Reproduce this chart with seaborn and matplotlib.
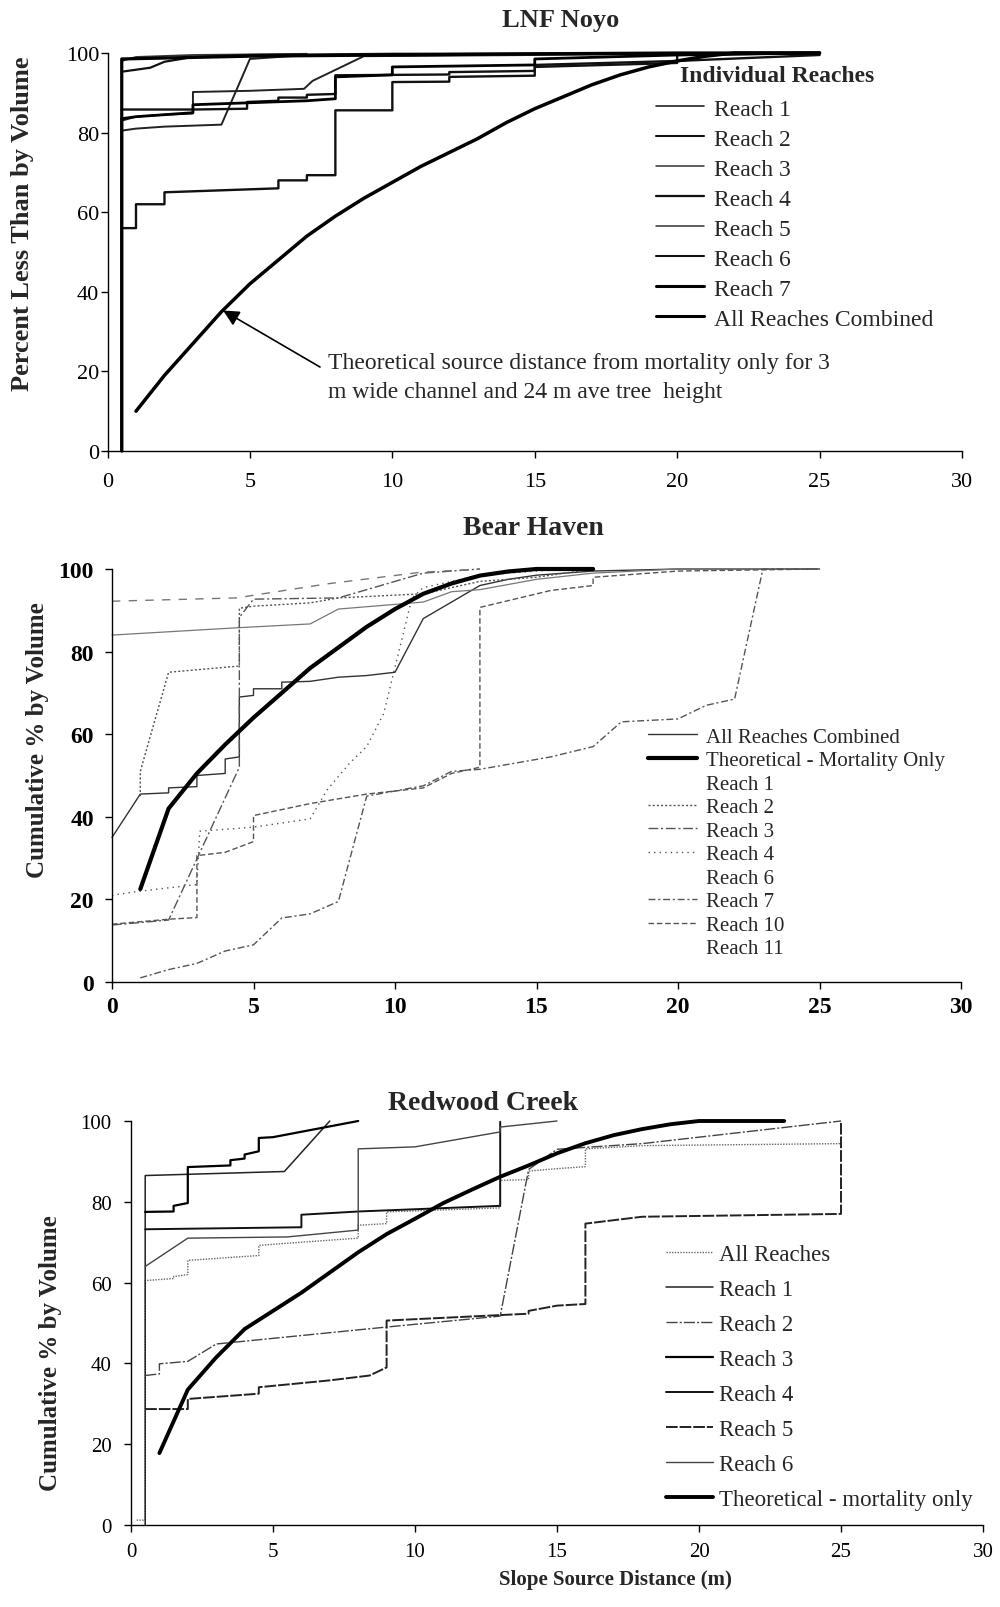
import matplotlib
matplotlib.use("Agg")
import matplotlib.pyplot as plt
import seaborn as sns
from matplotlib.lines import Line2D

# ---------------- data: LNF Noyo ----------------
noyo_theory_x = [1, 2, 3, 4, 5, 6, 7, 8, 9, 10, 11, 12, 13, 14, 15, 16, 17, 18, 19, 20, 21, 22, 25]
noyo_theory_y = [10, 19, 27, 35, 42, 48, 54, 59, 63.5, 67.5, 71.5, 75, 78.5, 82.5, 86, 89, 92, 94.5, 96.5, 98, 99.2, 100, 100]

noyo_r1_x = [0.5, 1, 1, 2, 2, 4, 6, 6, 7, 7, 8, 8, 10, 10, 12, 12, 15, 15, 20, 20, 25]
noyo_r1_y = [56, 56, 62, 62, 65, 65.5, 66, 68, 68, 69.3, 69.3, 85.6, 85.6, 92.7, 92.8, 94, 94.3, 96.5, 97.5, 99.5, 100]
noyo_r2_x = [0.5, 1, 2, 4, 5, 7, 25]
noyo_r2_y = [80.5, 81, 81.5, 82, 98.5, 99.5, 100]
noyo_r3_x = [0.5, 1, 2, 3, 3, 5, 6.9, 7.2, 9, 25]
noyo_r3_y = [83, 84, 84.5, 84.8, 90.2, 90.5, 91, 93, 99.2, 100]
noyo_r4_x = [0.5, 3, 4.9, 4.9, 6, 6, 7, 7, 8, 8, 12, 12, 15, 15, 20, 25]
noyo_r4_y = [85.8, 85.8, 86, 87.7, 88, 88.8, 88.8, 89.5, 89.7, 94.4, 94.6, 95.2, 95.5, 97, 98, 99.5]
noyo_r5_x = [0.5, 1, 3, 7]
noyo_r5_y = [98, 99, 99.5, 99.8]
noyo_r6_x = [0.5, 1.5, 2, 3, 5, 10, 25]
noyo_r6_y = [95.3, 96.3, 97.8, 99, 99.5, 99.8, 100]
noyo_r7_x = [0.5, 0.5, 5, 10, 15, 20, 25]
noyo_r7_y = [0, 98.5, 99.2, 99.5, 99.8, 100, 100]
noyo_all_x = [0.5, 0.5, 1, 2, 3, 3, 5, 7, 8, 8, 10, 10, 15, 15, 20, 25]
noyo_all_y = [0, 83.5, 84, 84.5, 85, 87, 87.5, 88, 88.5, 94, 94.5, 96.5, 97, 98.5, 99.5, 100]

# ---------------- data: Bear Haven ----------------
bh_theory_x = [1, 2, 3, 4, 5, 6, 7, 8, 9, 10, 11, 12, 13, 14, 15, 17]
bh_theory_y = [22.5, 42, 50.5, 57.5, 64, 70, 76, 81, 86, 90.3, 94, 96.5, 98.4, 99.4, 100, 100]

bh_all_x = [0, 1, 2, 2, 3, 3, 4, 4, 4.5, 4.5, 5, 5, 6, 6, 7, 8, 9, 10, 11, 12, 13, 14, 15, 17, 20, 25]
bh_all_y = [35, 45.5, 45.8, 47, 47.3, 50, 50.5, 54, 54.5, 69, 69.4, 71, 71, 72.6, 72.8, 73.8, 74.2, 75, 88, 92, 96, 97.5, 98.5, 99.5, 100, 100]
bh_r1_x = [0, 4.5, 7, 8, 11, 12, 13, 15, 17, 20, 25]
bh_r1_y = [84, 85.8, 86.7, 90.3, 92, 94.5, 95, 97.5, 99, 100, 100]
bh_r2_x = [1, 1, 2, 4.5, 4.5, 5, 7, 8, 11, 13, 15, 17]
bh_r2_y = [45, 51, 75, 76.5, 90.5, 91, 91.8, 93, 94, 97, 98, 100]
bh_r3_x = [0, 2, 4.5, 4.5, 5, 8, 11, 13]
bh_r3_y = [13.8, 15, 52, 88.3, 92.7, 93, 99, 100]
bh_r4_x = [0, 1, 3, 3.1, 5, 7, 7.6, 8.4, 9, 9.6, 10.6, 11, 13, 16]
bh_r4_y = [21, 22, 23.6, 36.5, 37.5, 39.5, 46.5, 53, 57, 65, 93, 95.5, 98.5, 100]
bh_r6_x = [0, 4.4, 7.6, 10.9, 13]
bh_r6_y = [92.2, 93, 96.4, 99.2, 100]
bh_r7_x = [1, 2, 3, 4, 5, 6, 7, 8, 9, 11, 12, 13, 15.5, 17, 18, 20, 21, 22, 23, 25]
bh_r7_y = [1, 3, 4.5, 7.5, 9, 15.5, 16.5, 19.5, 45, 47.5, 51, 51.5, 54.5, 57, 63, 63.7, 67, 68.5, 100, 100]
bh_r10_x = [0, 2, 3, 3, 4, 5, 5, 7, 9, 11, 12, 13, 13, 15.5, 17, 17, 20, 25]
bh_r10_y = [14, 15.2, 15.6, 30.6, 31.4, 34, 40.3, 43.2, 45.5, 47, 50.5, 52, 90.7, 94.8, 96, 98, 99.5, 100]

# ---------------- data: Redwood Creek ----------------
rw_theory_x = [1, 2, 3, 4, 5, 6, 7, 8, 9, 10, 11, 12, 13, 14, 15, 16, 17, 18, 19, 20, 23]
rw_theory_y = [17.8, 33.5, 41.5, 48.5, 53, 57.5, 62.5, 67.5, 72, 75.8, 79.7, 83, 86.2, 89, 92, 94.5, 96.5, 98, 99.2, 100, 100]

rw_all_x = [0.2, 0.5, 0.5, 1.5, 1.5, 2, 2, 4.5, 4.5, 6, 7, 8, 8, 9, 9, 13, 13, 14, 14, 15, 16, 16, 18, 25]
rw_all_y = [1.2, 1.2, 60.5, 61, 61.5, 62, 65.5, 66.7, 69.2, 70, 70.5, 71, 74.2, 74.6, 77.5, 78.5, 85.3, 85.5, 87.6, 88.2, 88.7, 93.1, 93.9, 94.4]
rw_r1_x = [0.5, 0.5, 5.4, 7]
rw_r1_y = [0, 86.5, 87.5, 100]
rw_r2_x = [0.5, 1, 1, 2, 3, 9, 13, 14, 15, 18, 25]
rw_r2_y = [37, 37.4, 39.9, 40.5, 44.8, 49, 51.7, 88, 93, 94.4, 100]
rw_r3_x = [0.5, 1.5, 1.5, 2, 2, 3.5, 3.5, 4, 4, 4.5, 4.5, 5, 8]
rw_r3_y = [77.5, 77.6, 79, 79.7, 88.6, 89, 90.3, 90.7, 91.7, 92.5, 95.8, 96, 100]
rw_r4_x = [0.5, 6, 6, 8, 13, 13]
rw_r4_y = [73.2, 73.7, 76.8, 77.6, 79, 99.8]
rw_r5_x = [0.5, 2, 2, 4.5, 4.5, 7, 8.4, 9, 9, 14, 14, 15, 16, 16, 18, 25, 25]
rw_r5_y = [28.7, 28.7, 31.2, 32.5, 34.1, 35.8, 37, 39, 50.6, 52.3, 53, 54.3, 54.7, 74.6, 76.3, 77, 100]
rw_r6_x = [0.5, 2, 5.5, 8, 8, 10, 13, 13, 15]
rw_r6_y = [64, 71, 71.3, 73, 93.1, 93.6, 97.3, 98.5, 100]

x_ticks = [0, 5, 10, 15, 20, 25, 30]
y_ticks = [0, 20, 40, 60, 80, 100]

# ---------------- style ----------------
sns.set_theme(style="ticks")
plt.rcParams["font.family"] = ["Liberation Serif", "DejaVu Serif"]
plt.rcParams["axes.linewidth"] = 1.0
plt.rcParams["axes.edgecolor"] = "black"

W, H = 1000, 1608
fig = plt.figure(figsize=(W / 100, H / 100), dpi=100)
fig.patch.set_facecolor("white")


def rect(l, r, t, b):
    return [l / W, 1 - b / H, (r - l) / W, (b - t) / H]


def draw(ax, x, y, color="black", lw=1.2, ls="-"):
    sns.lineplot(x=x, y=y, ax=ax, estimator=None, sort=False, color=color,
                 linewidth=lw, linestyle=ls, legend=False)
    ln = ax.lines[-1]
    ln.set_clip_on(False)
    return ln


def setup(ax, tsize, bold, ypad, xpad):
    ax.set_xlim(0, 30)
    ax.set_ylim(0, 100)
    ax.set_xticks(x_ticks)
    ax.set_yticks(y_ticks)
    ax.set_xlabel("")
    ax.set_ylabel("")
    sns.despine(ax=ax)
    ax.tick_params(axis="both", direction="out", length=5, width=1, colors="black",
                   labelsize=tsize)
    ax.tick_params(axis="y", pad=ypad)
    ax.tick_params(axis="x", pad=xpad)
    for lab in ax.get_xticklabels() + ax.get_yticklabels():
        lab.set_fontweight("bold" if bold else "normal")
    ax.set_facecolor("white")


# ---------------- panel 1: LNF Noyo ----------------
ax1 = fig.add_axes(rect(107.5, 962, 54, 452))
draw(ax1, noyo_r1_x, noyo_r1_y, "#111111", 1.7)
draw(ax1, noyo_r2_x, noyo_r2_y, "#222222", 1.4)
draw(ax1, noyo_r3_x, noyo_r3_y, "#222222", 1.4)
draw(ax1, noyo_r4_x, noyo_r4_y, "#111111", 1.7)
draw(ax1, noyo_r5_x, noyo_r5_y, "#333333", 1.3)
draw(ax1, noyo_r6_x, noyo_r6_y, "#111111", 1.6)
draw(ax1, noyo_r7_x, noyo_r7_y, "#000000", 2.3)
draw(ax1, noyo_all_x, noyo_all_y, "#000000", 2.0)
draw(ax1, noyo_theory_x, noyo_theory_y, "#000000", 2.5)
setup(ax1, 16, False, 1, 10)

h1 = [Line2D([], [], color="#222", lw=1.2), Line2D([], [], color="#111", lw=1.5),
      Line2D([], [], color="#333", lw=1.1), Line2D([], [], color="#111", lw=1.6),
      Line2D([], [], color="#333", lw=1.1), Line2D([], [], color="#111", lw=1.5),
      Line2D([], [], color="#000", lw=2.2), Line2D([], [], color="#000", lw=2.2)]
l1 = ["Reach 1", "Reach 2", "Reach 3", "Reach 4", "Reach 5", "Reach 6", "Reach 7",
      "All Reaches Combined"]
ax1.legend(h1, l1, loc="upper left", bbox_to_anchor=(656 / W, 1 - 99 / H),
           bbox_transform=fig.transFigure, frameon=False, fontsize=17,
           borderpad=0, borderaxespad=0, handlelength=2.03, handletextpad=0.42,
           labelspacing=0.36)
fig.text(777 / W, 1 - 77 / H, "Individual Reaches", fontsize=17, fontweight="bold",
         ha="center", va="center")

ax1.annotate("", xy=(4.06, 35.3), xytext=(7.46, 21.1),
             arrowprops=dict(arrowstyle="-|>", color="black", lw=1.2,
                             mutation_scale=24, shrinkA=0, shrinkB=0))
ax1.text(7.74, 18.6, "Theoretical source distance from mortality only for 3\n"
         "m wide channel and 24 m ave tree  height", fontsize=17, ha="left",
         va="center", linespacing=1.45)

fig.text(561 / W, 1 - 21 / H, "LNF Noyo", fontsize=19, fontweight="bold",
         ha="center", va="center")
fig.text(23 / W, 1 - 224 / H, "Percent Less Than by Volume", fontsize=19,
         fontweight="bold", rotation=90, ha="center", va="center")

# ---------------- panel 2: Bear Haven ----------------
ax2 = fig.add_axes(rect(112, 961, 570, 983))
gray = "#555555"
draw(ax2, bh_all_x, bh_all_y, "#333333", 1.0)
draw(ax2, bh_r1_x, bh_r1_y, "#777777", 0.9)
draw(ax2, bh_r2_x, bh_r2_y, gray, 1.0, (0, (1.5, 1.5)))
draw(ax2, bh_r3_x, bh_r3_y, gray, 1.0, (0, (7, 2, 1.5, 2)))
draw(ax2, bh_r4_x, bh_r4_y, gray, 1.0, (0, (1, 3)))
draw(ax2, bh_r6_x, bh_r6_y, "#777777", 1.0, (0, (6, 6)))
draw(ax2, bh_r7_x, bh_r7_y, gray, 1.0, (0, (5, 2, 1.5, 2)))
draw(ax2, bh_r10_x, bh_r10_y, gray, 1.0, (0, (4, 2)))
draw(ax2, bh_theory_x, bh_theory_y, "#000000", 3.0)
setup(ax2, 17, True, 8, 5)

h2 = [Line2D([], [], color="#333", lw=1.0), Line2D([], [], color="#000", lw=3.0),
      Line2D([], [], color="none"),
      Line2D([], [], color=gray, lw=1.0, ls=(0, (1.5, 1.5))),
      Line2D([], [], color=gray, lw=1.0, ls=(0, (7, 2, 1.5, 2))),
      Line2D([], [], color=gray, lw=1.0, ls=(0, (1, 3))),
      Line2D([], [], color="none"),
      Line2D([], [], color=gray, lw=1.0, ls=(0, (5, 2, 1.5, 2))),
      Line2D([], [], color=gray, lw=1.0, ls=(0, (4, 2))),
      Line2D([], [], color="none")]
l2 = ["All Reaches Combined", "Theoretical - Mortality Only", "Reach 1", "Reach 2",
      "Reach 3", "Reach 4", "Reach 6", "Reach 7", "Reach 10", "Reach 11"]
ax2.legend(h2, l2, loc="upper left", bbox_to_anchor=(648 / W, 1 - 728 / H),
           bbox_transform=fig.transFigure, frameon=False, fontsize=15,
           borderpad=0, borderaxespad=0, handlelength=2.36, handletextpad=0.43,
           labelspacing=0.19)

fig.text(533.5 / W, 1 - 528.5 / H, "Bear Haven", fontsize=20, fontweight="bold",
         ha="center", va="center")
fig.text(38 / W, 1 - 740 / H, "Cumulative % by Volume", fontsize=18,
         fontweight="bold", rotation=90, ha="center", va="center")

# ---------------- panel 3: Redwood Creek ----------------
ax3 = fig.add_axes(rect(131, 983, 1122, 1526))
draw(ax3, rw_all_x, rw_all_y, "#666666", 1.0, (0, (1, 1)))
draw(ax3, rw_r1_x, rw_r1_y, "#222222", 1.1)
draw(ax3, rw_r2_x, rw_r2_y, "#444444", 1.0, (0, (8, 1.5, 1.5, 1.5)))
draw(ax3, rw_r3_x, rw_r3_y, "#000000", 1.6)
draw(ax3, rw_r4_x, rw_r4_y, "#111111", 1.4)
draw(ax3, rw_r5_x, rw_r5_y, "#222222", 1.4, (0, (6, 1)))
draw(ax3, rw_r6_x, rw_r6_y, "#444444", 1.0)
draw(ax3, rw_theory_x, rw_theory_y, "#000000", 2.8)
setup(ax3, 15, False, 9, 7)

h3 = [Line2D([], [], color="#666", lw=1.0, ls=(0, (1, 1))),
      Line2D([], [], color="#222", lw=1.1),
      Line2D([], [], color="#444", lw=1.0, ls=(0, (8, 1.5, 1.5, 1.5))),
      Line2D([], [], color="#000", lw=1.6),
      Line2D([], [], color="#111", lw=1.4),
      Line2D([], [], color="#222", lw=1.4, ls=(0, (6, 1))),
      Line2D([], [], color="#444", lw=1.0),
      Line2D([], [], color="#000", lw=2.8)]
l3 = ["All Reaches", "Reach 1", "Reach 2", "Reach 3", "Reach 4", "Reach 5", "Reach 6",
      "Theoretical - mortality only"]
ax3.legend(h3, l3, loc="upper left", bbox_to_anchor=(666 / W, 1 - 1245 / H),
           bbox_transform=fig.transFigure, frameon=False, fontsize=16.5,
           borderpad=0, borderaxespad=0, handlelength=2.05, handletextpad=0.26,
           labelspacing=0.61)

fig.text(483 / W, 1 - 1104 / H, "Redwood Creek", fontsize=20, fontweight="bold",
         ha="center", va="center")
fig.text(51 / W, 1 - 1353 / H, "Cumulative % by Volume", fontsize=18,
         fontweight="bold", rotation=90, ha="center", va="center")
fig.text(615 / W, 1 - 1580 / H, "Slope Source Distance (m)", fontsize=15,
         fontweight="bold", ha="center", va="center")

fig.savefig("out.png", dpi=100, facecolor="white")
